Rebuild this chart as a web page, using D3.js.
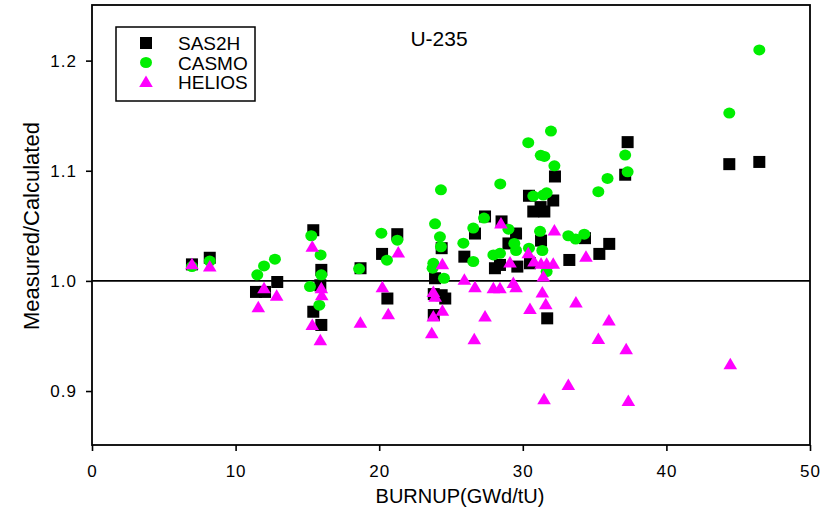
<!DOCTYPE html>
<html>
<head>
<meta charset="utf-8">
<script src="https://cdn.jsdelivr.net/npm/d3@7"></script>
<style>
  html, body { margin: 0; padding: 0; background: #fff; }
  svg { display: block; font-family: Arial, "Liberation Sans", sans-serif; }
</style>
</head>
<body>
<svg id="chart" width="834" height="519"></svg>
<script>
// Measured/Calculated ratios for U-235 versus burnup (GWd/tU), one array per code.
const sas2hBurnup = [6.96, 8.2, 11.42, 12.05, 12.9, 15.41, 15.97, 15.9, 15.41, 15.97, 18.7, 20.2, 20.57, 21.26,
  24.35, 23.89, 23.8, 24.35, 24.6, 23.8, 25.93, 26.67, 27.37, 28.52, 28.06, 28.41, 29.0, 29.53, 29.62,
  30.43, 32.12, 30.73, 31.5, 31.24, 32.24, 31.27, 30.5, 31.7, 33.24, 34.33, 35.33, 36.02, 37.3, 37.13, 44.38, 46.47];
const sas2hRatio = [1.015, 1.021, 0.990, 0.990, 0.999, 1.046, 1.010, 0.996, 0.972, 0.960, 1.0115, 1.0245, 0.984, 1.0424,
  1.0297, 1.0024, 0.988, 0.987, 0.984, 0.969, 1.022, 1.043, 1.0585, 1.054, 1.0115, 1.0145, 1.034, 1.043, 1.013,
  1.0773, 1.073, 1.063, 1.063, 1.067, 1.0948, 1.0366, 1.016, 0.966, 1.019, 1.0388, 1.0245, 1.0336, 1.126, 1.0964, 1.106, 1.108];

const casmoBurnup = [6.96, 8.2, 11.51, 11.98, 12.74, 15.27, 15.92, 15.97, 15.18, 15.83, 18.6, 20.15, 20.54, 21.26,
  23.89, 24.23, 24.3, 24.3, 23.77, 23.72, 24.51, 25.86, 26.55, 26.55, 27.3, 27.95, 28.41, 28.43, 29.0, 29.41, 29.53,
  30.38, 31.96, 31.25, 31.5, 32.2, 30.73, 31.43, 31.66, 31.2, 30.43, 31.36, 31.66, 33.17, 33.68, 34.28,
  35.26, 35.9, 37.13, 37.3, 44.38, 46.47];
const casmoRatio = [1.013, 1.018, 1.0055, 1.0136, 1.0197, 1.041, 1.0236, 1.0055, 0.9948, 0.978, 1.011, 1.0433, 1.0188, 1.037,
  1.0518, 1.040, 1.031, 1.0827, 1.016, 1.0115, 1.0024, 1.0342, 1.0176, 1.048, 1.057, 1.0236, 1.025, 1.088, 1.047, 1.034, 1.0276,
  1.1255, 1.136, 1.114, 1.113, 1.1045, 1.077, 1.078, 1.080, 1.045, 1.0297, 1.0276, 1.0085, 1.041, 1.038, 1.0424,
  1.081, 1.093, 1.1142, 1.099, 1.1524, 1.2097];

const heliosBurnup = [6.96, 8.2, 11.58, 11.98, 12.86, 15.34, 15.97, 16.0, 15.34, 15.9, 18.69, 20.22, 20.63, 21.33,
  24.4, 23.77, 23.9, 24.4, 23.77, 23.66, 25.93, 26.67, 26.62, 27.37, 27.95, 28.41, 28.48, 29.11, 29.34, 29.53,
  30.38, 30.78, 31.27, 31.66, 32.12, 31.43, 32.2, 30.5, 31.36, 31.6, 31.48, 33.17, 33.7, 34.4, 35.26, 36.0,
  37.2, 37.35, 44.45];
const heliosRatio = [1.015, 1.013, 0.976, 0.9933, 0.9864, 1.031, 0.9933, 0.987, 0.960, 0.946, 0.962, 0.9942, 0.9697, 1.0257,
  1.015, 0.990, 0.9857, 0.973, 0.9676, 0.9524, 1.001, 0.9942, 0.947, 0.9676, 0.9933, 0.9933, 1.052, 1.0167, 0.998, 0.9942,
  1.025, 1.0176, 1.0155, 1.0155, 1.0155, 1.004, 1.0457, 0.9745, 0.9894, 0.9788, 0.8925, 0.9055, 0.9803, 1.022, 0.9473, 0.964,
  0.938, 0.891, 0.9243];

const seriesNames = ["SAS2H", "CASMO", "HELIOS"];
const xTicks = [0, 10, 20, 30, 40, 50];
const yTicks = [0.9, 1.0, 1.1, 1.2];
const chartTitle = "U-235";
const xTitle = "BURNUP(GWd/tU)";
const yTitle = "Measured/Calculated";

const svg = d3.select("#chart");
const plot = { left: 92, right: 810, top: 5, bottom: 445 };

const x = d3.scaleLinear().domain([0, 50]).range([plot.left, plot.right]);
const y = d3.scaleLinear().domain([0.851, 1.2505]).range([plot.bottom, plot.top]);

const colors = { SAS2H: "#000000", CASMO: "#00ee00", HELIOS: "#ff00ff" };

// marker shapes
function drawMarker(g, name, cx, cy) {
  if (name === "SAS2H") {
    g.append("rect").attr("x", cx - 6).attr("y", cy - 6).attr("width", 12).attr("height", 12)
      .attr("fill", colors.SAS2H);
  } else if (name === "CASMO") {
    g.append("ellipse").attr("cx", cx).attr("cy", cy).attr("rx", 6).attr("ry", 5.5)
      .attr("fill", colors.CASMO);
  } else {
    g.append("path")
      .attr("d", `M${cx},${cy - 6.5}L${cx + 6.8},${cy + 5}L${cx - 6.8},${cy + 5}Z`)
      .attr("fill", colors.HELIOS);
  }
}

// reference line at ratio 1.0
svg.append("line")
  .attr("x1", plot.left).attr("x2", plot.right)
  .attr("y1", y(1.0)).attr("y2", y(1.0))
  .attr("stroke", "#000").attr("stroke-width", 1.6);

const marks = svg.append("g");
const datasets = [
  ["SAS2H", sas2hBurnup, sas2hRatio],
  ["CASMO", casmoBurnup, casmoRatio],
  ["HELIOS", heliosBurnup, heliosRatio]
];
datasets.forEach(([name, bx, ry]) => {
  const g = marks.append("g");
  bx.forEach((b, i) => drawMarker(g, name, x(b), y(ry[i])));
});

// frame
svg.append("rect")
  .attr("x", plot.left).attr("y", plot.top)
  .attr("width", plot.right - plot.left).attr("height", plot.bottom - plot.top)
  .attr("fill", "none").attr("stroke", "#000").attr("stroke-width", 1.8);

// axes
const xAxis = d3.axisBottom(x).tickValues(xTicks).tickSize(6).tickPadding(14).tickFormat(d3.format("d"));
const yAxis = d3.axisLeft(y).tickValues(yTicks).tickSize(6).tickPadding(9).tickFormat(d3.format(".1f"));

const gx = svg.append("g").attr("transform", `translate(0,${plot.bottom})`).call(xAxis);
const gy = svg.append("g").attr("transform", `translate(${plot.left},0)`).call(yAxis);
[gx, gy].forEach(g => {
  g.select(".domain").remove();
  g.selectAll(".tick line").attr("stroke", "#000").attr("stroke-width", 1.6);
  g.selectAll(".tick text").attr("fill", "#000").attr("font-size", 17).attr("letter-spacing", 1)
    .attr("font-family", "Arial, 'Liberation Sans', sans-serif");
});

// titles
svg.append("text").attr("x", 439).attr("y", 46).attr("text-anchor", "middle")
  .attr("font-size", 21).text(chartTitle);
svg.append("text").attr("x", 460).attr("y", 503).attr("text-anchor", "middle")
  .attr("font-size", 20).text(xTitle);
svg.append("text").attr("transform", `translate(39,226) rotate(-90)`)
  .attr("text-anchor", "middle").attr("font-size", 22).text(yTitle);

// legend
const legend = svg.append("g");
legend.append("rect").attr("x", 116).attr("y", 27).attr("width", 139).attr("height", 74)
  .attr("fill", "#fff").attr("stroke", "#000").attr("stroke-width", 1.5);
seriesNames.forEach((name, i) => {
  const cy = 43 + i * 19.5;
  drawMarker(legend, name, 146, cy);
  legend.append("text").attr("x", 178).attr("y", cy + 7).attr("font-size", 19).text(name);
});
</script>
</body>
</html>
